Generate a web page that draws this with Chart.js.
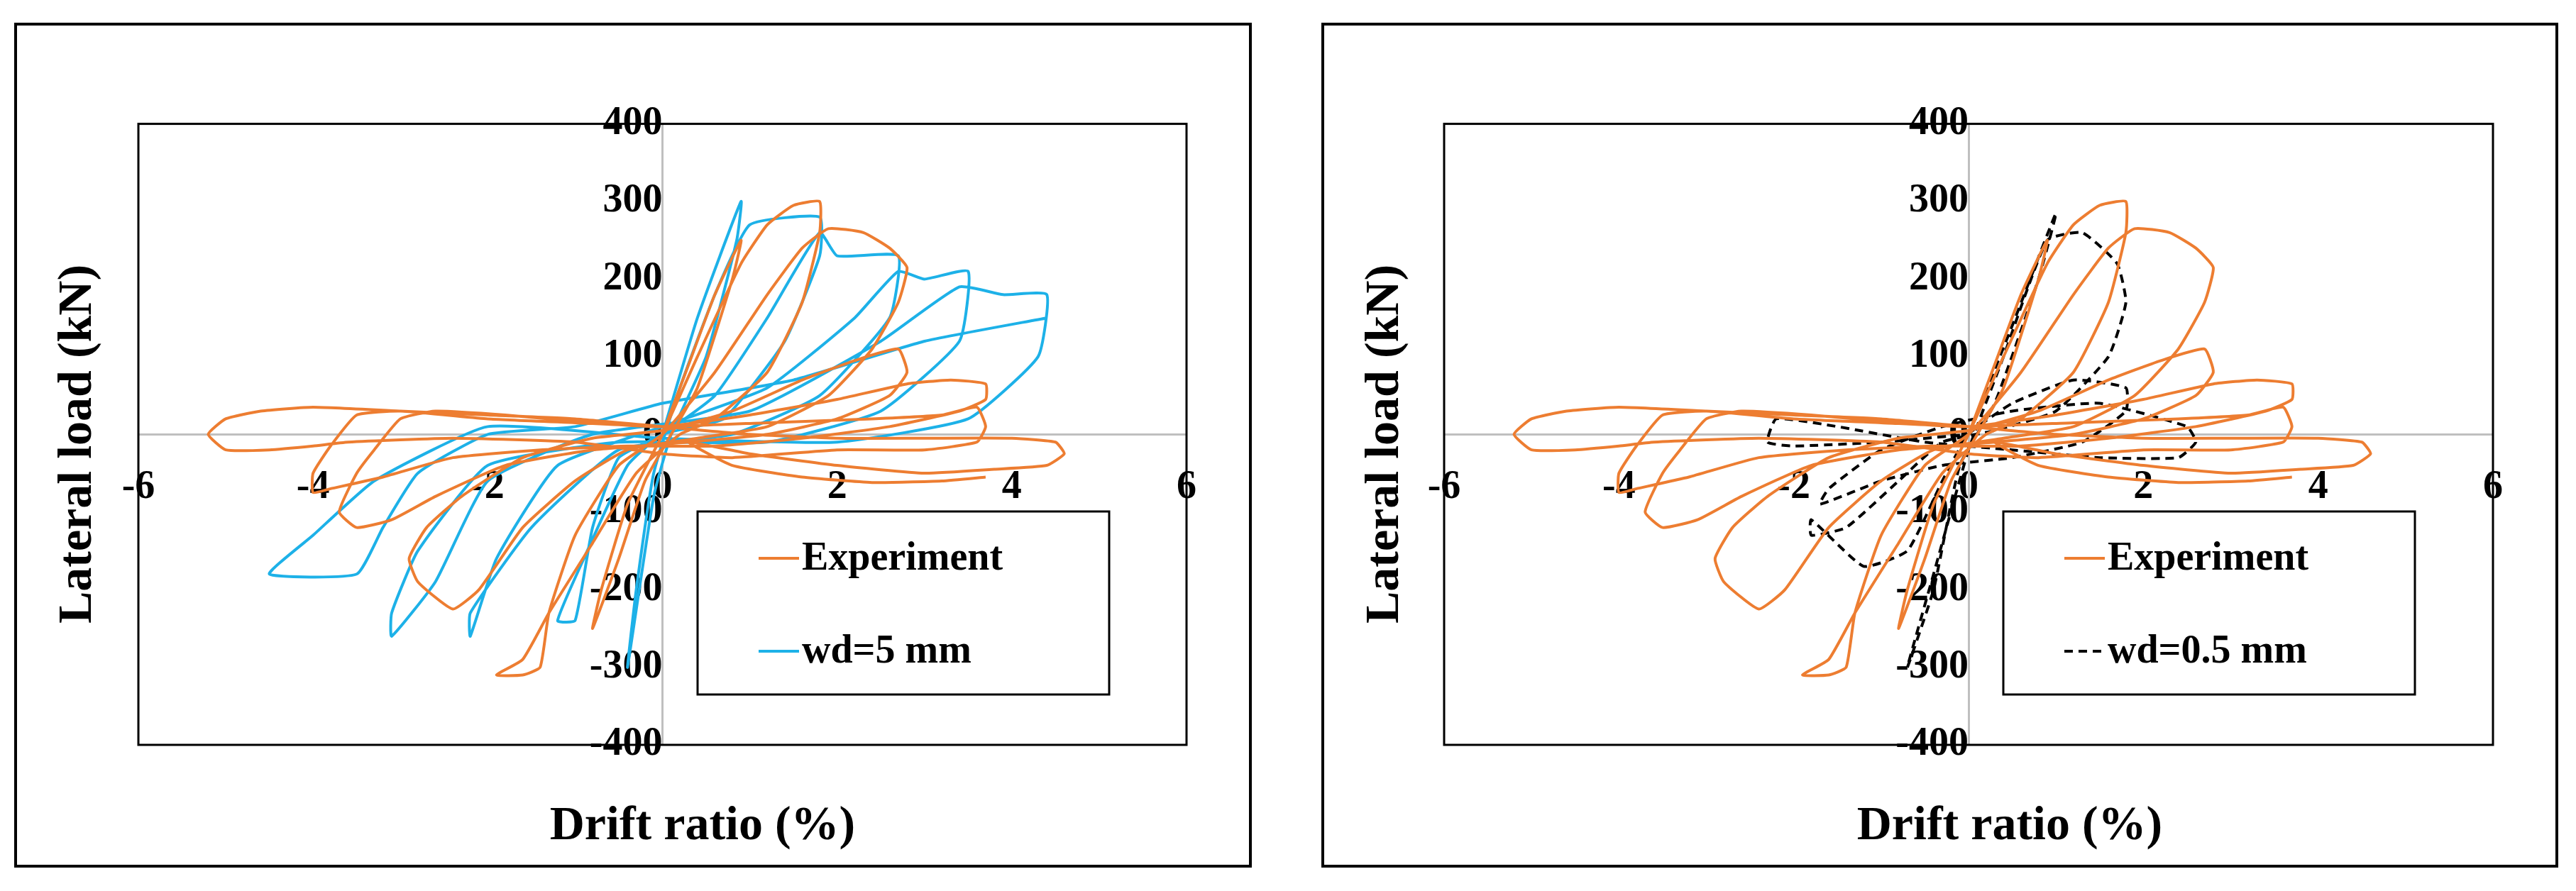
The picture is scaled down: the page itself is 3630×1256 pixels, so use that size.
<!DOCTYPE html>
<html>
<head>
<meta charset="utf-8">
<script src="https://cdn.jsdelivr.net/npm/chart.js@4"></script>
<style>
  body { margin: 0; background: #fff; width: 3630px; height: 1256px; position: relative; overflow: hidden; }
  .panel { position: absolute; top: 32px; height: 1191px; border: 4px solid #000; box-sizing: border-box; background: #fff; }
  #p1 { left: 20px; width: 1744px; }
  #p2 { left: 1862px; width: 1743px; }
  canvas { display: block; }
</style>
</head>
<body>
<div class="panel" id="p1"><canvas id="c1"></canvas></div>
<div class="panel" id="p2"><canvas id="c2"></canvas></div>
<script>
// tick labels
const xTicks = [-6, -4, -2, 0, 2, 4, 6];
const yTicks = [-400, -300, -200, -100, 0, 100, 200, 300, 400];

// Experiment (drift %, load kN)
const expX = [0,0.3,0.6,0.9,0.8,0.4,0.1,-0.2,-0.5,-0.8,-0.7,-0.4,0,
  0.4,0.9,1.2,1.5,1.8,1.8,1.6,1.2,0.6,0.2,-0.3,-0.8,-1.3,-1.6,-1.9,-1.6,-1.4,-1.3,-1.0,-0.5,0,
  0.6,1.2,1.6,1.9,2.3,2.6,2.8,2.7,2.4,1.9,1.2,0.4,-0.4,-1.0,-1.6,-2.1,-2.4,-2.8,-2.9,-2.7,-2.3,-1.6,-0.8,0,
  0.8,1.6,2.2,2.7,2.8,2.6,2.0,1.2,0.3,-0.8,-1.8,-2.6,-3.1,-3.5,-3.7,-3.5,-3.3,-3.0,-2.6,-1.8,-0.8,0,
  1.0,2.0,2.8,3.3,3.7,3.7,3.4,2.6,1.6,0.6,-0.4,-1.4,-2.4,-3.2,-3.8,-4.0,-4.0,-3.8,-3.5,-3.0,-2.0,-1.0,0,
  1.2,2.4,3.2,3.6,3.7,3.6,3.0,2.0,0.8,0,-1.0,-2.4,-3.6,-4.0,-4.5,-5.0,-5.2,-5.0,-4.6,-4.0,-3.0,-2.0,-1.0,0,
  1.0,2.0,3.0,4.0,4.5,4.6,4.4,3.8,3.0,2.0,1.0,0.3,0.8,1.6,2.4,3.2,3.7];
const expY = [0,90,180,250,200,60,0,-60,-160,-250,-200,-90,0,
  100,220,270,295,300,260,170,80,20,0,-50,-140,-230,-290,-310,-310,-300,-230,-130,-40,0,
  80,180,240,265,260,240,215,170,110,50,10,-5,-20,-60,-120,-200,-225,-190,-160,-120,-80,-30,-5,5,
  30,70,95,110,80,50,20,0,-10,-20,-40,-80,-110,-120,-100,-50,-20,20,30,25,15,10,
  25,45,65,70,65,45,30,10,-5,-15,-15,-20,-30,-55,-70,-75,-50,-15,25,30,20,15,10,
  15,20,25,35,10,-10,-20,-20,-30,-25,-10,-5,-10,-15,-20,-20,0,20,30,35,30,25,20,10,
  0,-5,-5,-5,-10,-25,-40,-45,-50,-40,-25,-10,-40,-55,-62,-60,-55];

// Model wd=5 mm
const wd5X = [0,0.4,0.9,0.85,0.5,0.1,-0.1,-0.4,-0.3,-0.1,0.2,
  0.6,1.0,1.8,1.8,1.4,0.7,0,-0.4,-0.9,-1.2,-1.0,-0.8,-0.5,0,0.6,1.2,1.8,
  2.0,2.7,2.6,1.8,0.8,-0.5,-1.5,-2.2,-2.2,-1.9,-1.2,0,1.2,2.2,2.7,
  3.0,3.5,3.4,2.5,1.2,-0.5,-2.0,-2.8,-3.1,-3.1,-2.6,-2.0,-0.8,1.0,2.5,3.4,
  3.9,4.4,4.3,3.5,2.0,0,-2.0,-3.3,-4.0,-4.5,-3.5,-3.2,-2.8,-2.0,-1.0,0,1.5,3.0,4.4];
const wd5Y = [0,150,300,250,100,0,-80,-300,-200,-50,60,
  180,270,280,230,120,20,0,-40,-160,-240,-240,-120,-30,0,50,150,260,
  230,230,150,50,0,-20,-120,-230,-260,-160,-40,10,60,150,210,
  200,210,120,30,-10,-10,-40,-150,-230,-260,-190,-60,0,30,120,190,
  180,180,100,20,-10,-5,10,-60,-130,-180,-180,-120,-50,0,10,40,70,120,150];

// Model wd=0.5 mm
const wd05X = [0,0.5,1.0,0.8,0.3,-0.1,-0.4,-0.7,-0.4,0,0.4,0.9,1.3,1.7,1.8,1.6,1.0,0.3,-0.3,-0.8,-1.4,-1.8,-1.8,
  -1.2,-0.7,-0.3,0,0.5,1.2,1.8,1.8,1.3,0.5,-0.3,-1.0,-1.7,-1.6,-1.0,-0.3,0.5,1.5,2.5,2.6,2.4,1.5,0.5,-0.5,-1.5,-2.2,-2.3,-2.0,-1.0,0];
const wd05Y = [0,140,285,200,40,-40,-200,-300,-180,-20,100,250,260,220,170,100,30,5,-10,-60,-120,-130,-110,
  -170,-150,-60,0,40,70,60,30,-10,-30,-40,-60,-90,-70,-20,10,30,40,10,-10,-30,-30,-20,-10,10,20,-10,-15,-10,0];

const ORANGE = '#ED7D31';
const BLUE = '#1DB1E8';
const FONT = '"Liberation Serif", "Times New Roman", serif';

function pts(xs, ys) { return xs.map((x, i) => ({ x: x, y: ys[i] })); }

const framePlugin = {
  id: 'frame',
  afterDraw(chart, args, opts) {
    const ctx = chart.ctx;
    const a = chart.chartArea;
    ctx.save();
    ctx.strokeStyle = '#000';
    ctx.lineWidth = 3;
    ctx.strokeRect(a.left, a.top, a.right - a.left, a.bottom - a.top);
    // axis titles
    ctx.fillStyle = '#000';
    ctx.font = 'bold 68px ' + FONT;
    ctx.textAlign = 'center';
    ctx.textBaseline = 'middle';
    ctx.fillText('Drift ratio (%)', opts.xTitleX, 1129);
    ctx.save();
    ctx.translate(86, 590);
    ctx.rotate(-Math.PI / 2);
    ctx.fillText('Lateral load (kN)', 0, 0);
    ctx.restore();
    // legend
    const lx = a.left + 788, ly = 685;
    ctx.fillStyle = '#fff';
    ctx.fillRect(lx, ly, 580, 258);
    ctx.lineWidth = 3;
    ctx.strokeRect(lx, ly, 580, 258);
    const rows = chart.data.datasets;
    rows.forEach((ds, i) => {
      const cy = ly + 66 + i * 131;
      ctx.strokeStyle = ds.borderColor;
      ctx.lineWidth = 4;
      ctx.setLineDash(ds.borderDash || []);
      ctx.beginPath();
      ctx.moveTo(lx + 86, cy);
      ctx.lineTo(lx + 143, cy);
      ctx.stroke();
      ctx.setLineDash([]);
      ctx.fillStyle = '#000';
      ctx.font = 'bold 56px ' + FONT;
      ctx.textAlign = 'left';
      ctx.fillText(ds.label, lx + 147, cy + 2);
    });
    ctx.restore();
  }
};

function makeChart(id, model, padLeft, xTitleX) {
  const canvas = document.getElementById(id);
  const w = canvas.parentElement.clientWidth, h = canvas.parentElement.clientHeight;
  canvas.width = w; canvas.height = h;
  return new Chart(canvas, {
    type: 'scatter',
    data: {
      datasets: [
        { label: 'Experiment', data: pts(expX, expY), borderColor: ORANGE, borderWidth: 4,
          showLine: true, pointRadius: 0, tension: 0.15, fill: false },
        model
      ]
    },
    options: {
      responsive: false,
      animation: false,
      devicePixelRatio: 1,
      layout: { padding: { left: padLeft, top: 107, right: 88, bottom: 169 } },
      plugins: { legend: { display: false }, tooltip: { enabled: false }, frame: { xTitleX: xTitleX } },
      scales: {
        x: {
          type: 'linear', min: -6, max: 6, position: { y: 0 }, z: 1,
          afterFit(s) { s.height = 0; },
          afterBuildTicks(s) { s.ticks = xTicks.map(v => ({ value: v })); },
          grid: { display: false, drawTicks: false },
          border: { color: '#BFBFBF', width: 3 },
          ticks: { color: '#000', padding: 42, maxRotation: 0, font: { family: FONT, size: 56, weight: 'bold' } }
        },
        y: {
          type: 'linear', min: -400, max: 400, position: { x: 0 }, z: 1,
          afterFit(s) { s.width = 0; },
          afterBuildTicks(s) { s.ticks = yTicks.map(v => ({ value: v })); },
          grid: { display: false, drawTicks: false },
          border: { color: '#BFBFBF', width: 3 },
          ticks: { color: '#000', padding: 105, font: { family: FONT, size: 56, weight: 'bold' } }
        }
      }
    },
    plugins: [framePlugin]
  });
}

makeChart('c1', { label: 'wd=5 mm', data: pts(wd5X, wd5Y), borderColor: BLUE, borderWidth: 4,
  showLine: true, pointRadius: 0, tension: 0.15, fill: false }, 171, 966);
makeChart('c2', { label: 'wd=0.5 mm', data: pts(wd05X, wd05Y), borderColor: '#000', borderWidth: 4,
  borderDash: [12, 8], showLine: true, pointRadius: 0, tension: 0.15, fill: false }, 169, 966);
</script>
</body>
</html>
